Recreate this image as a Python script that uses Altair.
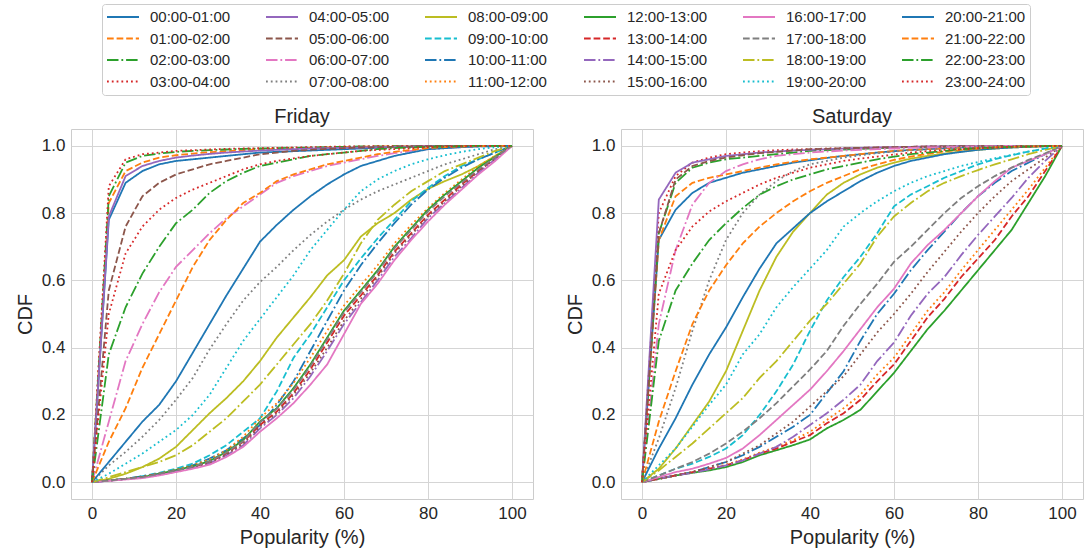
import altair as alt
import pandas as pd

X = [0, 4, 8, 12, 16, 20, 24, 28, 32, 36, 40, 44, 48, 52, 56, 60, 64, 68, 72, 76, 80, 84, 88, 92, 96, 100]

HOURS = ["00:00-01:00", "01:00-02:00", "02:00-03:00", "03:00-04:00", "04:00-05:00", "05:00-06:00",
         "06:00-07:00", "07:00-08:00", "08:00-09:00", "09:00-10:00", "10:00-11:00", "11:00-12:00",
         "12:00-13:00", "13:00-14:00", "14:00-15:00", "15:00-16:00", "16:00-17:00", "17:00-18:00",
         "18:00-19:00", "19:00-20:00", "20:00-21:00", "21:00-22:00", "22:00-23:00", "23:00-24:00"]

# ---- Friday ----
F00 = [0, .78, .89, .925, .945, .955, .96, .965, .97, .975, .98, .982, .984, .986, .988, .99, .992, .994, .996, .997, .998, .999, 1, 1, 1, 1]
F01 = [0, .83, .925, .95, .965, .972, .977, .981, .984, .987, .989, .991, .993, .994, .995, .996, .997, .998, .998, .999, .999, 1, 1, 1, 1, 1]
F02 = [0, .85, .95, .97, .977, .982, .985, .987, .989, .991, .992, .993, .994, .995, .996, .997, .998, .998, .999, .999, 1, 1, 1, 1, 1, 1]
F03 = [0, .88, .96, .975, .98, .985, .987, .989, .991, .992, .993, .994, .995, .996, .997, .998, .998, .999, .999, 1, 1, 1, 1, 1, 1, 1]
F04 = [0, .79, .91, .94, .955, .965, .971, .976, .98, .983, .986, .988, .99, .992, .993, .994, .995, .996, .997, .998, .999, .999, 1, 1, 1, 1]
F05 = [0, .57, .76, .85, .89, .915, .93, .945, .955, .965, .975, .98, .985, .988, .991, .993, .995, .996, .997, .998, .999, 1, 1, 1, 1, 1]
F06 = [0, .18, .36, .47, .565, .64, .69, .74, .785, .82, .855, .89, .91, .925, .94, .95, .96, .97, .978, .985, .99, .993, .996, .998, .999, 1]
F07 = [0, .05, .09, .135, .185, .245, .31, .395, .47, .54, .595, .64, .69, .735, .775, .81, .84, .865, .885, .905, .925, .945, .96, .975, .99, 1]
F08 = [0, .01, .025, .045, .07, .105, .155, .205, .25, .30, .36, .43, .49, .55, .615, .66, .73, .77, .80, .84, .872, .895, .915, .94, .97, 1]
F09 = [0, .005, .01, .018, .028, .04, .055, .08, .11, .15, .19, .27, .37, .44, .52, .60, .665, .725, .78, .835, .875, .91, .94, .96, .98, 1]
F10 = [0, .005, .01, .018, .025, .035, .05, .07, .095, .13, .17, .23, .30, .39, .48, .57, .645, .71, .77, .825, .87, .905, .935, .96, .98, 1]
F11 = [0, .005, .01, .016, .026, .037, .05, .068, .095, .135, .19, .235, .295, .37, .45, .525, .585, .645, .71, .765, .815, .86, .90, .94, .97, 1]
F12 = [0, .005, .01, .015, .025, .036, .047, .063, .09, .125, .18, .22, .28, .35, .43, .51, .57, .63, .70, .755, .81, .855, .895, .935, .967, 1]
F13 = [0, .005, .01, .015, .024, .034, .045, .06, .085, .12, .17, .21, .265, .335, .415, .495, .555, .615, .685, .74, .795, .84, .885, .925, .963, 1]
F14 = [0, .004, .009, .014, .022, .032, .042, .056, .08, .11, .16, .20, .25, .315, .39, .47, .535, .60, .67, .725, .785, .83, .875, .92, .96, 1]
F15 = [0, .005, .01, .015, .024, .034, .044, .058, .082, .115, .165, .205, .26, .325, .40, .48, .545, .61, .68, .735, .79, .835, .88, .925, .962, 1]
F16 = [0, .004, .008, .012, .02, .03, .04, .052, .075, .105, .15, .19, .235, .29, .35, .44, .53, .59, .66, .72, .775, .825, .87, .915, .955, 1]
F17 = [0, .005, .01, .015, .025, .035, .046, .062, .088, .122, .178, .218, .275, .345, .425, .505, .565, .625, .695, .75, .805, .85, .89, .93, .966, 1]
F18 = [0, .015, .03, .045, .06, .08, .11, .15, .19, .24, .29, .35, .41, .47, .54, .62, .71, .78, .825, .865, .895, .925, .945, .965, .985, 1]
F19 = [0, .025, .055, .085, .12, .155, .20, .26, .34, .42, .485, .55, .615, .69, .75, .81, .865, .90, .925, .945, .96, .972, .982, .99, .996, 1]
F20 = [0, .06, .12, .18, .23, .30, .385, .47, .555, .635, .715, .765, .81, .85, .885, .915, .94, .955, .97, .98, .99, .993, .996, .998, .999, 1]
F21 = [0, .12, .22, .34, .44, .54, .64, .72, .78, .83, .86, .895, .915, .93, .945, .955, .965, .975, .982, .988, .993, .996, .998, .999, 1, 1]
F22 = [0, .38, .52, .62, .70, .77, .81, .86, .895, .92, .94, .95, .96, .97, .975, .98, .985, .99, .993, .995, .997, .998, .999, 1, 1, 1]
F23 = [0, .50, .68, .76, .81, .845, .87, .89, .91, .93, .945, .955, .963, .97, .975, .98, .985, .988, .99, .993, .996, .998, .999, 1, 1, 1]

# ---- Saturday ----
S00 = [0, .72, .81, .86, .89, .905, .92, .93, .94, .95, .957, .964, .97, .975, .98, .984, .988, .99, .993, .995, .997, .998, .999, 1, 1, 1]
S01 = [0, .72, .85, .89, .905, .915, .925, .935, .945, .953, .96, .965, .97, .975, .98, .985, .988, .99, .993, .995, .997, .998, .999, 1, 1, 1]
S02 = [0, .74, .89, .935, .95, .96, .965, .97, .975, .98, .985, .987, .989, .991, .993, .995, .996, .997, .998, .999, .999, 1, 1, 1, 1, 1]
S03 = [0, .80, .91, .95, .965, .975, .98, .984, .987, .989, .99, .992, .993, .994, .995, .996, .997, .998, .998, .999, .999, 1, 1, 1, 1, 1]
S04 = [0, .84, .92, .95, .96, .97, .975, .98, .983, .986, .988, .99, .992, .994, .995, .996, .997, .998, .998, .999, .999, 1, 1, 1, 1, 1]
S05 = [0, .74, .90, .94, .955, .965, .972, .978, .982, .986, .99, .991, .993, .994, .995, .996, .997, .998, .998, .999, .999, 1, 1, 1, 1, 1]
S06 = [0, .47, .69, .825, .89, .925, .945, .96, .97, .975, .98, .983, .986, .988, .99, .992, .994, .995, .996, .997, .998, .999, 1, 1, 1, 1]
S07 = [0, .13, .28, .45, .60, .72, .80, .855, .895, .925, .945, .955, .965, .972, .978, .983, .987, .99, .993, .995, .997, .998, .999, 1, 1, 1]
S08 = [0, .04, .10, .17, .24, .33, .45, .57, .67, .745, .80, .855, .89, .915, .935, .95, .962, .97, .977, .983, .988, .992, .995, .997, .999, 1]
S09 = [0, .02, .04, .055, .075, .10, .14, .20, .27, .35, .45, .54, .61, .67, .74, .82, .855, .88, .905, .925, .945, .96, .972, .983, .992, 1]
S10 = [0, .01, .02, .03, .045, .06, .08, .105, .135, .165, .20, .265, .33, .42, .50, .56, .63, .69, .745, .80, .85, .89, .925, .95, .975, 1]
S11 = [0, .01, .02, .03, .04, .052, .068, .088, .105, .125, .15, .185, .22, .26, .32, .37, .44, .51, .565, .63, .69, .75, .81, .87, .935, 1]
S12 = [0, .01, .02, .028, .035, .045, .06, .08, .095, .11, .127, .16, .185, .215, .27, .325, .39, .455, .51, .57, .63, .69, .75, .83, .91, 1]
S13 = [0, .01, .02, .03, .04, .05, .065, .085, .10, .12, .14, .175, .205, .245, .30, .35, .42, .49, .545, .61, .665, .72, .79, .85, .925, 1]
S14 = [0, .01, .02, .028, .038, .05, .065, .085, .105, .135, .17, .205, .245, .29, .36, .415, .495, .56, .61, .675, .735, .79, .845, .905, .955, 1]
S15 = [0, .01, .02, .03, .045, .06, .085, .11, .145, .18, .225, .27, .315, .38, .445, .50, .56, .625, .685, .745, .80, .85, .895, .93, .965, 1]
S16 = [0, .015, .03, .04, .055, .072, .10, .14, .185, .23, .275, .33, .39, .455, .52, .575, .65, .705, .75, .80, .85, .895, .935, .955, .975, 1]
S17 = [0, .02, .04, .06, .085, .115, .15, .19, .235, .285, .335, .39, .465, .53, .59, .655, .70, .75, .80, .845, .88, .91, .935, .958, .978, 1]
S18 = [0, .035, .075, .115, .16, .205, .25, .31, .36, .42, .48, .53, .59, .65, .73, .79, .83, .865, .89, .91, .928, .945, .96, .975, .988, 1]
S19 = [0, .05, .10, .165, .23, .29, .38, .44, .52, .58, .635, .69, .76, .80, .835, .865, .89, .91, .925, .94, .952, .963, .973, .983, .992, 1]
S20 = [0, .10, .19, .29, .38, .46, .55, .635, .71, .755, .80, .835, .865, .895, .92, .94, .955, .965, .975, .982, .988, .992, .995, .997, .999, 1]
S21 = [0, .18, .33, .47, .57, .645, .71, .76, .80, .835, .865, .89, .91, .93, .945, .958, .968, .976, .983, .988, .992, .995, .997, .998, .999, 1]
S22 = [0, .42, .57, .65, .72, .77, .815, .855, .88, .90, .915, .93, .94, .95, .96, .968, .975, .98, .985, .99, .993, .995, .997, .998, .999, 1]
S23 = [0, .56, .69, .76, .805, .835, .86, .885, .905, .92, .935, .945, .955, .962, .968, .974, .98, .984, .988, .99, .993, .995, .997, .998, .999, 1]

FRIDAY = [F00, F01, F02, F03, F04, F05, F06, F07, F08, F09, F10, F11,
          F12, F13, F14, F15, F16, F17, F18, F19, F20, F21, F22, F23]
SATURDAY = [S00, S01, S02, S03, S04, S05, S06, S07, S08, S09, S10, S11,
            S12, S13, S14, S15, S16, S17, S18, S19, S20, S21, S22, S23]

TAB10 = ["#1f77b4", "#ff7f0e", "#2ca02c", "#d62728", "#9467bd",
         "#8c564b", "#e377c2", "#7f7f7f", "#bcbd22", "#17becf"]
DASHES = [[1, 0], [6.7, 2.9], [11.5, 2.9, 1.8, 2.9], [1.8, 3.0]]

FONT = "Liberation Sans"
TXT = "#262626"

leg_domain = HOURS
leg_colors = [TAB10[i % 10] for i in range(24)]
leg_dashes = [DASHES[i % 4] for i in range(24)]

rows = []
for day, series in (("Friday", FRIDAY), ("Saturday", SATURDAY)):
    for h, ys in zip(HOURS, series):
        for xv, yv in zip(X, ys):
            rows.append({"day": day, "hour": h, "x": xv, "y": yv})
df = pd.DataFrame(rows)

legend_kw = dict(
    title=None, orient="none", legendX=31, legendY=-125, columns=6,
    symbolType="stroke", symbolSize=1024, symbolStrokeWidth=1.8,
    labelFont=FONT, labelFontSize=15, labelColor=TXT, labelOffset=10,
    columnPadding=34, rowPadding=3.5, padding=4, clipHeight=18,
    fillColor="white", strokeColor="#cccccc", cornerRadius=3,
)


def panel(day):
    return alt.Chart(df[df["day"] == day]).mark_line(strokeWidth=1.8, clip=True).encode(
        x=alt.X("x:Q", scale=alt.Scale(domain=[-5, 105], nice=False, zero=False),
                axis=alt.Axis(values=[0, 20, 40, 60, 80, 100], title="Popularity (%)")),
        y=alt.Y("y:Q", scale=alt.Scale(domain=[-0.05, 1.05], nice=False, zero=False),
                axis=alt.Axis(values=[0, 0.2, 0.4, 0.6, 0.8, 1.0], format=".1f", title="CDF")),
        color=alt.Color("hour:N", scale=alt.Scale(domain=leg_domain, range=leg_colors),
                        legend=alt.Legend(**legend_kw)),
        strokeDash=alt.StrokeDash("hour:N", scale=alt.Scale(domain=leg_domain, range=leg_dashes),
                                  legend=alt.Legend(**legend_kw)),
    ).properties(
        width=462, height=370,
        title=alt.TitleParams(day, font=FONT, fontSize=20, fontWeight="normal", color=TXT, offset=2),
    )


chart = alt.hconcat(panel("Friday"), panel("Saturday"), spacing=30).properties(
    padding={"left": 14, "top": 3, "right": 1, "bottom": 5}
).configure_view(
    stroke="#cccccc", strokeWidth=1
).configure_axis(
    labelFont=FONT, titleFont=FONT, labelFontSize=17, titleFontSize=20,
    labelColor=TXT, titleColor=TXT, titleFontWeight="normal",
    grid=True, gridColor="#d5d5d5", gridWidth=1, ticks=False, domain=False,
    labelPadding=6, titlePadding=6,
)

chart.save("out.html", embed_options={"renderer": "svg", "actions": False})
